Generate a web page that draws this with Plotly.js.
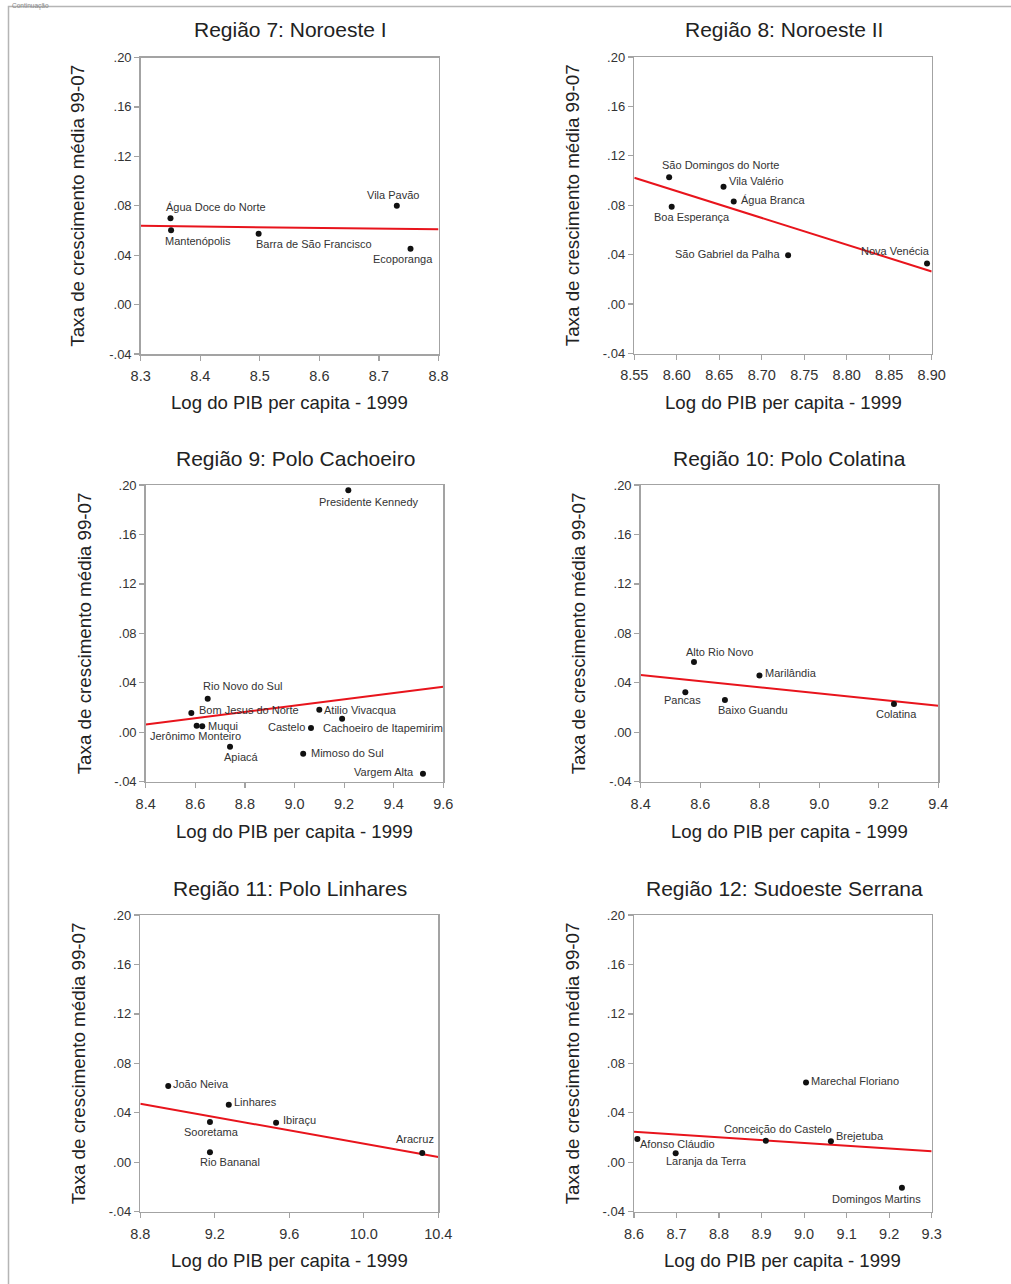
<!DOCTYPE html>
<html>
<head>
<meta charset="utf-8">
<script src="https://cdn.plot.ly/plotly-3.0.1.min.js"></script>
<style>
html,body{margin:0;padding:0;background:#fff;}
#chart{width:1011px;height:1284px;}
</style>
</head>
<body>
<div id="chart"></div>
<script>
// ---------------- DATA ----------------
// Região 7: Noroeste I
const r7_names = ["Água Doce do Norte","Mantenópolis","Barra de São Francisco","Vila Pavão","Ecoporanga"];
const r7_x = [8.350, 8.351, 8.498, 8.730, 8.753];
const r7_y = [0.0698, 0.0601, 0.0573, 0.0800, 0.0452];
const r7_fit = [0.0638, 0.0609];
const r7_xticks = [8.3, 8.4, 8.5, 8.6, 8.7, 8.8];

// Região 8: Noroeste II
const r8_names = ["São Domingos do Norte","Vila Valério","Água Branca","Boa Esperança","São Gabriel da Palha","Nova Venécia"];
const r8_x = [8.591, 8.655, 8.667, 8.594, 8.731, 8.8945];
const r8_y = [0.1027, 0.0949, 0.0830, 0.0787, 0.0395, 0.0328];
const r8_fit = [0.1022, 0.0264];
const r8_xticks = [8.55, 8.60, 8.65, 8.70, 8.75, 8.80, 8.85, 8.90];

// Região 9: Polo Cachoeiro
const r9_names = ["Presidente Kennedy","Rio Novo do Sul","Bom Jesus do Norte","Muqui","Jerônimo Monteiro","Apiacá","Atilio Vivacqua","Castelo","Cachoeiro de Itapemirim","Mimoso do Sul","Vargem Alta"];
const r9_x = [9.217, 8.650, 8.584, 8.628, 8.6055, 8.740, 9.100, 9.0665, 9.192, 9.035, 9.518];
const r9_y = [0.1957, 0.0271, 0.0155, 0.0048, 0.0053, -0.0117, 0.0182, 0.0034, 0.0110, -0.0173, -0.0335];
const r9_fit = [0.0063, 0.0368];
const r9_xticks = [8.4, 8.6, 8.8, 9.0, 9.2, 9.4, 9.6];

// Região 10: Polo Colatina
const r10_names = ["Alto Rio Novo","Marilândia","Pancas","Baixo Guandu","Colatina"];
const r10_x = [8.579, 8.799, 8.550, 8.683, 9.251];
const r10_y = [0.0568, 0.0460, 0.0323, 0.0261, 0.0228];
const r10_fit = [0.0463, 0.0215];
const r10_xticks = [8.4, 8.6, 8.8, 9.0, 9.2, 9.4];

// Região 11: Polo Linhares
const r11_names = ["João Neiva","Linhares","Ibiraçu","Sooretama","Rio Bananal","Aracruz"];
const r11_x = [8.950, 9.275, 9.529, 9.174, 9.174, 10.314];
const r11_y = [0.0617, 0.0465, 0.0320, 0.0325, 0.0080, 0.0074];
const r11_fit = [0.0473, 0.0042];
const r11_xticks = [8.8, 9.2, 9.6, 10.0, 10.4];

// Região 12: Sudoeste Serrana
const r12_names = ["Marechal Floriano","Afonso Cláudio","Laranja da Terra","Conceição do Castelo","Brejetuba","Domingos Martins"];
const r12_x = [9.0045, 8.608, 8.698, 8.910, 9.063, 9.230];
const r12_y = [0.0646, 0.0188, 0.0072, 0.0174, 0.0169, -0.0206];
const r12_fit = [0.0247, 0.0088];
const r12_xticks = [8.6, 8.7, 8.8, 8.9, 9.0, 9.1, 9.2, 9.3];

const yTicks = [-0.04, 0.00, 0.04, 0.08, 0.12, 0.16, 0.20];
const yTickText = ["-.04", ".00", ".04", ".08", ".12", ".16", ".20"];

const titles = ["Região 7: Noroeste I","Região 8: Noroeste II","Região 9: Polo Cachoeiro","Região 10: Polo Colatina","Região 11: Polo Linhares","Região 12: Sudoeste Serrana"];
const xTitle = "Log do PIB per capita - 1999";
const yTitle = "Taxa de crescimento média 99-07";
const headerNote = "Continuação";

// ---------------- STYLE / LAYOUT (pixel placement) ----------------
const W = 1011, H = 1284;
const px = v => v / W;
const py = v => 1 - v / H;

// label offsets [dx, dy] in pixels from the point (styling only)
const lab7 = [[45.5,-11],[26.8,11],[55.7,10.3],[-4.3,-10.3],[-7.5,10.7]];
const lab8 = [[51.2,-12.7],[32.8,-5.4],[39.7,-2],[20.5,10],[-60.3,-1.7],[-32,-12.3]];
const lab9 = [[20.4,11.4],[35.3,-12.4],[57.4,-3.3],[21,-0.6],[-0.9,10.6],[11.3,10.3],[41.2,0.6],[-24.3,-0.7],[40.8,9.6],[44,-0.4],[-38.5,-1.4]];
const lab10 = [[25.7,-10.3],[31.5,-2],[-2.8,7.7],[28.5,10],[2.7,10.3]];
const lab11 = [[32.7,-1.7],[26.8,-2.4],[23,-3],[1.8,10.3],[19.7,10],[-7,-13.7]];
const lab12 = [[49.3,-1.6],[40.2,5.3],[31,8],[12.3,-12],[29.3,-5],[-25.4,11.6]];

const panels = [
  {names:r7_names, x:r7_x, y:r7_y, fit:r7_fit, xt:r7_xticks, fmt:'.1f', box:[140.7,438.5,57.5,354], lab:lab7, tx:290, ty:30, xty:403, ytx:78},
  {names:r8_names, x:r8_x, y:r8_y, fit:r8_fit, xt:r8_xticks, fmt:'.2f', box:[634.3,931.7,57,353.5], lab:lab8, tx:784, ty:30, xty:403, ytx:572},
  {names:r9_names, x:r9_x, y:r9_y, fit:r9_fit, xt:r9_xticks, fmt:'.1f', box:[145.7,443.3,485,781.7], lab:lab9, tx:295, ty:458, xty:831, ytx:84},
  {names:r10_names, x:r10_x, y:r10_y, fit:r10_fit, xt:r10_xticks, fmt:'.1f', box:[640.7,938.3,485,781.7], lab:lab10, tx:789, ty:458, xty:831, ytx:578},
  {names:r11_names, x:r11_x, y:r11_y, fit:r11_fit, xt:r11_xticks, fmt:'.1f', box:[140.3,438.3,915,1211.7], lab:lab11, tx:290, ty:888, xty:1260, ytx:78},
  {names:r12_names, x:r12_x, y:r12_y, fit:r12_fit, xt:r12_xticks, fmt:'.1f', box:[634,931.7,915,1211.7], lab:lab12, tx:784, ty:888, xty:1260, ytx:572}
];

const FONT = "Liberation Sans, Arial, Helvetica, sans-serif";
const AXIS_COLOR = "#a3a3a3";
const traces = [];
const annotations = [];
const layout = {
  width: W, height: H, autosize: false,
  margin: {l:0, r:0, t:0, b:0, pad:0},
  paper_bgcolor: "#ffffff", plot_bgcolor: "#ffffff",
  showlegend: false,
  font: {family: FONT, color: "#333"},
  shapes: [
    {type:'rect', xref:'paper', yref:'paper', x0:px(8.5), x1:px(W+5), y0:py(6.5), y1:py(H+5),
     line:{color:'#b5b5b5', width:1.5}, fillcolor:'rgba(0,0,0,0)', layer:'below'}
  ]
};

panels.forEach((p, i) => {
  const k = i + 1;
  const sx = k === 1 ? '' : String(k);
  const xr = [p.xt[0], p.xt[p.xt.length - 1]];
  // regression line
  traces.push({
    type:'scatter', mode:'lines', x: xr, y: p.fit,
    xaxis:'x'+sx, yaxis:'y'+sx, line:{color:'#e8141c', width:2}, hoverinfo:'skip'
  });
  // points
  traces.push({
    type:'scatter', mode:'markers', x:p.x, y:p.y, text:p.names,
    xaxis:'x'+sx, yaxis:'y'+sx,
    marker:{color:'#111', size:6, line:{width:0}}
  });
  const common = {
    showline:true, mirror:true, linecolor:AXIS_COLOR, linewidth:1.5,
    ticks:'outside', ticklen:5, tickwidth:1.2, tickcolor:AXIS_COLOR,
    showgrid:false, zeroline:false, fixedrange:true
  };
  layout['xaxis'+sx] = Object.assign({}, common, {
    domain:[px(p.box[0]), px(p.box[1])], range:xr, anchor:'y'+sx,
    tickvals:p.xt, tickformat:p.fmt, tickfont:{size:14.5, color:'#333', family:FONT},
    ticklabelstandoff: 3
  });
  layout['yaxis'+sx] = Object.assign({}, common, {
    domain:[py(p.box[3]), py(p.box[2])], range:[-0.04, 0.20], anchor:'x'+sx,
    tickvals:yTicks, ticktext:yTickText, tickfont:{size:13, color:'#333', family:FONT}
  });
  // point labels
  p.names.forEach((n, j) => {
    annotations.push({
      xref:'x'+sx, yref:'y'+sx, x:p.x[j], y:p.y[j], text:n, showarrow:false,
      xanchor:'center', yanchor:'middle', xshift:p.lab[j][0], yshift:-p.lab[j][1],
      font:{size:11, color:'#333', family:FONT}
    });
  });
  // panel title
  annotations.push({xref:'paper', yref:'paper', x:px(p.tx), y:py(p.ty), text:titles[i], showarrow:false,
    xanchor:'center', yanchor:'middle', font:{size:21, color:'#222', family:FONT}});
  // x title
  annotations.push({xref:'paper', yref:'paper', x:px((p.box[0]+p.box[1])/2), y:py(p.xty), text:xTitle, showarrow:false,
    xanchor:'center', yanchor:'middle', font:{size:18.6, color:'#222', family:FONT}});
  // y title
  annotations.push({xref:'paper', yref:'paper', x:px(p.ytx), y:py((p.box[2]+p.box[3])/2), text:yTitle, showarrow:false,
    textangle:-90, xanchor:'center', yanchor:'middle', font:{size:18.8, color:'#222', family:FONT}});
});

annotations.push({xref:'paper', yref:'paper', x:px(10), y:py(0), text:headerNote, showarrow:false,
  xanchor:'left', yanchor:'top', font:{size:6.5, color:'#888', family:FONT}});

layout.annotations = annotations;

Plotly.newPlot('chart', traces, layout, {displayModeBar:false, staticPlot:true});
</script>
</body>
</html>
